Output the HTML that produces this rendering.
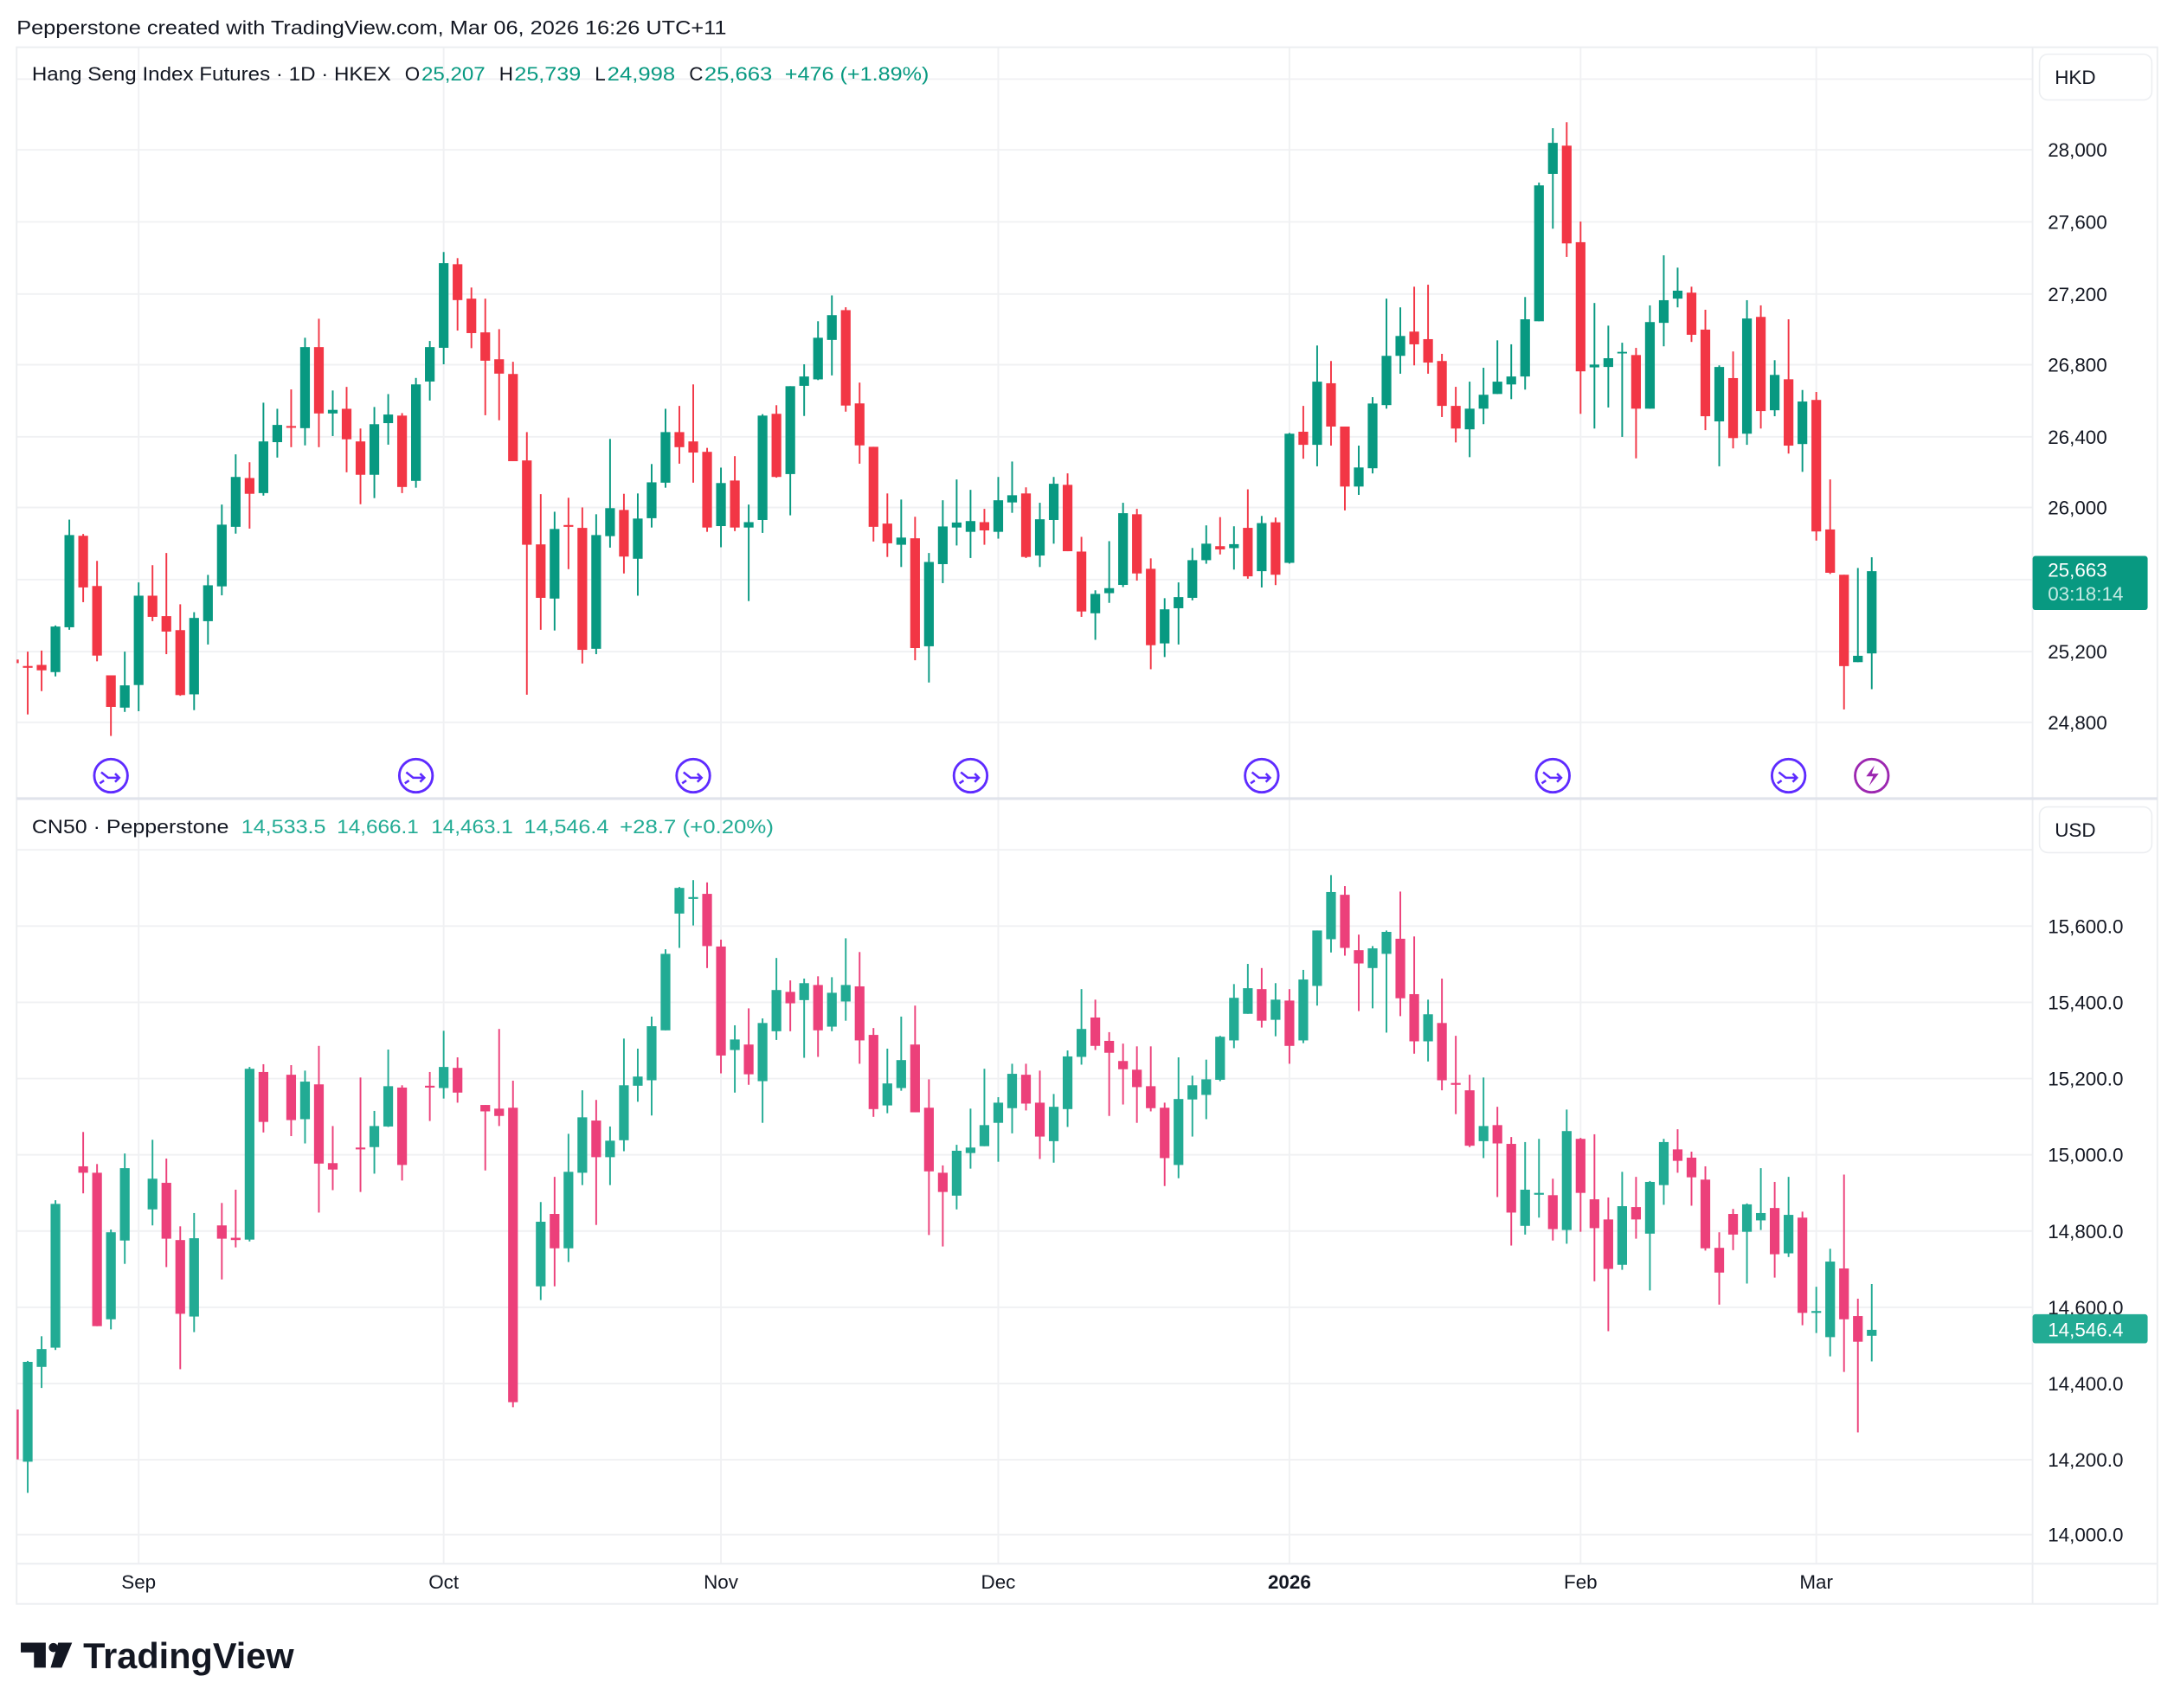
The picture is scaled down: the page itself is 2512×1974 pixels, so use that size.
<!DOCTYPE html>
<html><head><meta charset="utf-8"><style>
html,body{margin:0;padding:0;background:#fff}
svg{display:block}
text{font-family:"Liberation Sans",sans-serif}
.u rect{fill:#089981}.d rect{fill:#F23645}
.bu rect{fill:#22AB94}.bd rect{fill:#EC407A}
.ax{font-size:14px;fill:#131722}
</style></head><body>
<svg width="2512" height="1974" viewBox="0 0 1568 1232" xmlns="http://www.w3.org/2000/svg">
<defs>
<clipPath id="ct"><rect x="12" y="34" width="1454" height="542"/></clipPath>
<clipPath id="cb"><rect x="12" y="577" width="1454" height="551"/></clipPath>
</defs>
<rect width="1568" height="1232" fill="#fff"/>
<text x="12" y="24.5" font-size="14" fill="#131722" textLength="512" lengthAdjust="spacingAndGlyphs">Pepperstone created with TradingView.com, Mar 06, 2026 16:26 UTC+11</text>

<!-- grid -->
<g stroke="#f0f1f3" stroke-width="1.2">
<line x1="12" y1="57" x2="1466" y2="57"/><line x1="12" y1="108" x2="1466" y2="108"/><line x1="12" y1="160" x2="1466" y2="160"/><line x1="12" y1="212" x2="1466" y2="212"/><line x1="12" y1="263" x2="1466" y2="263"/><line x1="12" y1="315" x2="1466" y2="315"/><line x1="12" y1="366" x2="1466" y2="366"/><line x1="12" y1="418" x2="1466" y2="418"/><line x1="12" y1="470" x2="1466" y2="470"/><line x1="12" y1="521" x2="1466" y2="521"/>
<line x1="12" y1="613" x2="1466" y2="613"/><line x1="12" y1="668" x2="1466" y2="668"/><line x1="12" y1="723" x2="1466" y2="723"/><line x1="12" y1="778" x2="1466" y2="778"/><line x1="12" y1="833" x2="1466" y2="833"/><line x1="12" y1="888" x2="1466" y2="888"/><line x1="12" y1="943" x2="1466" y2="943"/><line x1="12" y1="998" x2="1466" y2="998"/><line x1="12" y1="1053" x2="1466" y2="1053"/><line x1="12" y1="1107" x2="1466" y2="1107"/>
<line x1="100" y1="34" x2="100" y2="1128"/><line x1="320" y1="34" x2="320" y2="1128"/><line x1="520" y1="34" x2="520" y2="1128"/><line x1="720" y1="34" x2="720" y2="1128"/><line x1="930" y1="34" x2="930" y2="1128"/><line x1="1140" y1="34" x2="1140" y2="1128"/><line x1="1310" y1="34" x2="1310" y2="1128"/>
</g>
<!-- frame -->
<rect x="12" y="34" width="1544" height="1123" fill="none" stroke="#eceef1" stroke-width="1.2"/>
<line x1="1466" y1="34" x2="1466" y2="1157" stroke="#eceef1" stroke-width="1.2"/>
<line x1="12" y1="1128" x2="1556" y2="1128" stroke="#eceef1" stroke-width="1.2"/>
<line x1="12" y1="576" x2="1556" y2="576" stroke="#e0e3eb" stroke-width="2"/>

<!-- TOP candles -->
<g clip-path="url(#ct)">
<g transform="translate(0,156.1) scale(1,0.2588)">
<g class="d" transform="translate(10)"><rect x="-.6" y="1218" width="1.2" height="44"/><rect x="-3.5" y="1235" width="7" height="10"/></g>
<g class="d" transform="translate(20)"><rect x="-.6" y="1213" width="1.2" height="175"/><rect x="-3.5" y="1253" width="7" height="5"/></g>
<g class="d" transform="translate(30)"><rect x="-.6" y="1210" width="1.2" height="113"/><rect x="-3.5" y="1250" width="7" height="15"/></g>
<g class="u" transform="translate(40)"><rect x="-.6" y="1140" width="1.2" height="142"/><rect x="-3.5" y="1143" width="7" height="127"/></g>
<g class="u" transform="translate(50)"><rect x="-.6" y="845" width="1.2" height="307"/><rect x="-3.5" y="888" width="7" height="257"/></g>
<g class="d" transform="translate(60)"><rect x="-.6" y="885" width="1.2" height="190"/><rect x="-3.5" y="890" width="7" height="144"/></g>
<g class="d" transform="translate(70)"><rect x="-.6" y="960" width="1.2" height="280"/><rect x="-3.5" y="1030" width="7" height="194"/></g>
<g class="d" transform="translate(80)"><rect x="-.6" y="1279" width="1.2" height="169"/><rect x="-3.5" y="1279" width="7" height="88"/></g>
<g class="u" transform="translate(90)"><rect x="-.6" y="1213" width="1.2" height="168"/><rect x="-3.5" y="1307" width="7" height="62"/></g>
<g class="u" transform="translate(100)"><rect x="-.6" y="1020" width="1.2" height="359"/><rect x="-3.5" y="1057" width="7" height="249"/></g>
<g class="d" transform="translate(110)"><rect x="-.6" y="972" width="1.2" height="156"/><rect x="-3.5" y="1057" width="7" height="59"/></g>
<g class="d" transform="translate(120)"><rect x="-.6" y="938" width="1.2" height="282"/><rect x="-3.5" y="1114" width="7" height="43"/></g>
<g class="d" transform="translate(130)"><rect x="-.6" y="1081" width="1.2" height="255"/><rect x="-3.5" y="1153" width="7" height="181"/></g>
<g class="u" transform="translate(140)"><rect x="-.6" y="1103" width="1.2" height="273"/><rect x="-3.5" y="1119" width="7" height="213"/></g>
<g class="u" transform="translate(150)"><rect x="-.6" y="999" width="1.2" height="194"/><rect x="-3.5" y="1028" width="7" height="100"/></g>
<g class="u" transform="translate(160)"><rect x="-.6" y="803" width="1.2" height="253"/><rect x="-3.5" y="859" width="7" height="172"/></g>
<g class="u" transform="translate(170)"><rect x="-.6" y="663" width="1.2" height="221"/><rect x="-3.5" y="726" width="7" height="139"/></g>
<g class="d" transform="translate(180)"><rect x="-.6" y="685" width="1.2" height="185"/><rect x="-3.5" y="729" width="7" height="44"/></g>
<g class="u" transform="translate(190)"><rect x="-.6" y="519" width="1.2" height="259"/><rect x="-3.5" y="627" width="7" height="144"/></g>
<g class="u" transform="translate(200)"><rect x="-.6" y="536" width="1.2" height="136"/><rect x="-3.5" y="581" width="7" height="48"/></g>
<g class="d" transform="translate(210)"><rect x="-.6" y="482" width="1.2" height="161"/><rect x="-3.5" y="584" width="7" height="5"/></g>
<g class="u" transform="translate(220)"><rect x="-.6" y="338" width="1.2" height="300"/><rect x="-3.5" y="364" width="7" height="226"/></g>
<g class="d" transform="translate(230)"><rect x="-.6" y="285" width="1.2" height="358"/><rect x="-3.5" y="364" width="7" height="185"/></g>
<g class="u" transform="translate(240)"><rect x="-.6" y="485" width="1.2" height="127"/><rect x="-3.5" y="539" width="7" height="10"/></g>
<g class="d" transform="translate(250)"><rect x="-.6" y="475" width="1.2" height="238"/><rect x="-3.5" y="536" width="7" height="85"/></g>
<g class="d" transform="translate(260)"><rect x="-.6" y="591" width="1.2" height="211"/><rect x="-3.5" y="627" width="7" height="93"/></g>
<g class="u" transform="translate(270)"><rect x="-.6" y="531" width="1.2" height="254"/><rect x="-3.5" y="579" width="7" height="141"/></g>
<g class="u" transform="translate(280)"><rect x="-.6" y="495" width="1.2" height="141"/><rect x="-3.5" y="552" width="7" height="24"/></g>
<g class="d" transform="translate(290)"><rect x="-.6" y="548" width="1.2" height="223"/><rect x="-3.5" y="555" width="7" height="199"/></g>
<g class="u" transform="translate(300)"><rect x="-.6" y="450" width="1.2" height="306"/><rect x="-3.5" y="468" width="7" height="269"/></g>
<g class="u" transform="translate(310)"><rect x="-.6" y="347" width="1.2" height="166"/><rect x="-3.5" y="364" width="7" height="96"/></g>
<g class="u" transform="translate(320)"><rect x="-.6" y="99" width="1.2" height="313"/><rect x="-3.5" y="130" width="7" height="236"/></g>
<g class="d" transform="translate(330)"><rect x="-.6" y="116" width="1.2" height="202"/><rect x="-3.5" y="133" width="7" height="100"/></g>
<g class="d" transform="translate(340)"><rect x="-.6" y="198" width="1.2" height="169"/><rect x="-3.5" y="229" width="7" height="96"/></g>
<g class="d" transform="translate(350)"><rect x="-.6" y="229" width="1.2" height="325"/><rect x="-3.5" y="323" width="7" height="79"/></g>
<g class="d" transform="translate(360)"><rect x="-.6" y="314" width="1.2" height="254"/><rect x="-3.5" y="398" width="7" height="40"/></g>
<g class="d" transform="translate(370)"><rect x="-.6" y="405" width="1.2" height="277"/><rect x="-3.5" y="439" width="7" height="243"/></g>
<g class="d" transform="translate(380)"><rect x="-.6" y="601" width="1.2" height="732"/><rect x="-3.5" y="680" width="7" height="235"/></g>
<g class="d" transform="translate(390)"><rect x="-.6" y="774" width="1.2" height="378"/><rect x="-3.5" y="914" width="7" height="149"/></g>
<g class="u" transform="translate(400)"><rect x="-.6" y="823" width="1.2" height="331"/><rect x="-3.5" y="871" width="7" height="194"/></g>
<g class="d" transform="translate(410)"><rect x="-.6" y="784" width="1.2" height="199"/><rect x="-3.5" y="860" width="7" height="5"/></g>
<g class="d" transform="translate(420)"><rect x="-.6" y="811" width="1.2" height="435"/><rect x="-3.5" y="868" width="7" height="340"/></g>
<g class="u" transform="translate(430)"><rect x="-.6" y="830" width="1.2" height="390"/><rect x="-3.5" y="888" width="7" height="317"/></g>
<g class="u" transform="translate(440)"><rect x="-.6" y="620" width="1.2" height="303"/><rect x="-3.5" y="813" width="7" height="78"/></g>
<g class="d" transform="translate(450)"><rect x="-.6" y="773" width="1.2" height="222"/><rect x="-3.5" y="818" width="7" height="130"/></g>
<g class="u" transform="translate(460)"><rect x="-.6" y="772" width="1.2" height="285"/><rect x="-3.5" y="842" width="7" height="112"/></g>
<g class="u" transform="translate(470)"><rect x="-.6" y="690" width="1.2" height="177"/><rect x="-3.5" y="741" width="7" height="100"/></g>
<g class="u" transform="translate(480)"><rect x="-.6" y="536" width="1.2" height="220"/><rect x="-3.5" y="601" width="7" height="141"/></g>
<g class="d" transform="translate(490)"><rect x="-.6" y="528" width="1.2" height="161"/><rect x="-3.5" y="601" width="7" height="42"/></g>
<g class="d" transform="translate(500)"><rect x="-.6" y="468" width="1.2" height="274"/><rect x="-3.5" y="627" width="7" height="31"/></g>
<g class="d" transform="translate(510)"><rect x="-.6" y="645" width="1.2" height="234"/><rect x="-3.5" y="656" width="7" height="211"/></g>
<g class="u" transform="translate(520)"><rect x="-.6" y="700" width="1.2" height="222"/><rect x="-3.5" y="743" width="7" height="120"/></g>
<g class="d" transform="translate(530)"><rect x="-.6" y="668" width="1.2" height="209"/><rect x="-3.5" y="736" width="7" height="131"/></g>
<g class="u" transform="translate(540)"><rect x="-.6" y="803" width="1.2" height="269"/><rect x="-3.5" y="852" width="7" height="15"/></g>
<g class="u" transform="translate(550)"><rect x="-.6" y="551" width="1.2" height="331"/><rect x="-3.5" y="555" width="7" height="291"/></g>
<g class="d" transform="translate(560)"><rect x="-.6" y="526" width="1.2" height="202"/><rect x="-3.5" y="550" width="7" height="176"/></g>
<g class="u" transform="translate(570)"><rect x="-.6" y="473" width="1.2" height="360"/><rect x="-3.5" y="473" width="7" height="245"/></g>
<g class="u" transform="translate(580)"><rect x="-.6" y="412" width="1.2" height="144"/><rect x="-3.5" y="446" width="7" height="26"/></g>
<g class="u" transform="translate(590)"><rect x="-.6" y="292" width="1.2" height="164"/><rect x="-3.5" y="338" width="7" height="116"/></g>
<g class="u" transform="translate(600)"><rect x="-.6" y="220" width="1.2" height="223"/><rect x="-3.5" y="275" width="7" height="69"/></g>
<g class="d" transform="translate(610)"><rect x="-.6" y="253" width="1.2" height="291"/><rect x="-3.5" y="261" width="7" height="266"/></g>
<g class="d" transform="translate(620)"><rect x="-.6" y="463" width="1.2" height="226"/><rect x="-3.5" y="521" width="7" height="117"/></g>
<g class="d" transform="translate(630)"><rect x="-.6" y="642" width="1.2" height="264"/><rect x="-3.5" y="642" width="7" height="223"/></g>
<g class="d" transform="translate(640)"><rect x="-.6" y="772" width="1.2" height="177"/><rect x="-3.5" y="856" width="7" height="55"/></g>
<g class="u" transform="translate(650)"><rect x="-.6" y="789" width="1.2" height="188"/><rect x="-3.5" y="895" width="7" height="20"/></g>
<g class="d" transform="translate(660)"><rect x="-.6" y="837" width="1.2" height="400"/><rect x="-3.5" y="897" width="7" height="306"/></g>
<g class="u" transform="translate(670)"><rect x="-.6" y="938" width="1.2" height="361"/><rect x="-3.5" y="963" width="7" height="235"/></g>
<g class="u" transform="translate(680)"><rect x="-.6" y="791" width="1.2" height="231"/><rect x="-3.5" y="864" width="7" height="105"/></g>
<g class="u" transform="translate(690)"><rect x="-.6" y="733" width="1.2" height="184"/><rect x="-3.5" y="853" width="7" height="14"/></g>
<g class="u" transform="translate(700)"><rect x="-.6" y="762" width="1.2" height="190"/><rect x="-3.5" y="849" width="7" height="30"/></g>
<g class="d" transform="translate(710)"><rect x="-.6" y="815" width="1.2" height="100"/><rect x="-3.5" y="852" width="7" height="23"/></g>
<g class="u" transform="translate(720)"><rect x="-.6" y="726" width="1.2" height="172"/><rect x="-3.5" y="791" width="7" height="88"/></g>
<g class="u" transform="translate(730)"><rect x="-.6" y="683" width="1.2" height="143"/><rect x="-3.5" y="777" width="7" height="20"/></g>
<g class="d" transform="translate(740)"><rect x="-.6" y="755" width="1.2" height="197"/><rect x="-3.5" y="772" width="7" height="177"/></g>
<g class="u" transform="translate(750)"><rect x="-.6" y="798" width="1.2" height="179"/><rect x="-3.5" y="844" width="7" height="101"/></g>
<g class="u" transform="translate(760)"><rect x="-.6" y="726" width="1.2" height="186"/><rect x="-3.5" y="745" width="7" height="101"/></g>
<g class="d" transform="translate(770)"><rect x="-.6" y="716" width="1.2" height="217"/><rect x="-3.5" y="748" width="7" height="185"/></g>
<g class="d" transform="translate(780)"><rect x="-.6" y="893" width="1.2" height="223"/><rect x="-3.5" y="934" width="7" height="167"/></g>
<g class="u" transform="translate(790)"><rect x="-.6" y="1042" width="1.2" height="138"/><rect x="-3.5" y="1052" width="7" height="54"/></g>
<g class="u" transform="translate(800)"><rect x="-.6" y="905" width="1.2" height="172"/><rect x="-3.5" y="1036" width="7" height="14"/></g>
<g class="u" transform="translate(810)"><rect x="-.6" y="798" width="1.2" height="235"/><rect x="-3.5" y="827" width="7" height="200"/></g>
<g class="d" transform="translate(820)"><rect x="-.6" y="815" width="1.2" height="200"/><rect x="-3.5" y="830" width="7" height="165"/></g>
<g class="d" transform="translate(830)"><rect x="-.6" y="953" width="1.2" height="309"/><rect x="-3.5" y="982" width="7" height="213"/></g>
<g class="u" transform="translate(840)"><rect x="-.6" y="1064" width="1.2" height="164"/><rect x="-3.5" y="1095" width="7" height="95"/></g>
<g class="u" transform="translate(850)"><rect x="-.6" y="1020" width="1.2" height="173"/><rect x="-3.5" y="1061" width="7" height="31"/></g>
<g class="u" transform="translate(860)"><rect x="-.6" y="924" width="1.2" height="146"/><rect x="-3.5" y="958" width="7" height="105"/></g>
<g class="u" transform="translate(870)"><rect x="-.6" y="861" width="1.2" height="107"/><rect x="-3.5" y="912" width="7" height="46"/></g>
<g class="d" transform="translate(880)"><rect x="-.6" y="838" width="1.2" height="104"/><rect x="-3.5" y="919" width="7" height="9"/></g>
</g>
<g transform="translate(0,74.9) scale(1,0.28662)">
<g class="u" transform="translate(890)"><rect x="-.6" y="1063" width="1.2" height="109"/><rect x="-3.5" y="1108" width="7" height="10"/></g>
<g class="d" transform="translate(900)"><rect x="-.6" y="970" width="1.2" height="225"/><rect x="-3.5" y="1067" width="7" height="122"/></g>
<g class="u" transform="translate(910)"><rect x="-.6" y="1037" width="1.2" height="180"/><rect x="-3.5" y="1055" width="7" height="121"/></g>
<g class="d" transform="translate(920)"><rect x="-.6" y="1041" width="1.2" height="170"/><rect x="-3.5" y="1053" width="7" height="132"/></g>
<g class="u" transform="translate(930)"><rect x="-.6" y="828" width="1.2" height="329"/><rect x="-3.5" y="830" width="7" height="325"/></g>
<g class="d" transform="translate(940)"><rect x="-.6" y="760" width="1.2" height="133"/><rect x="-3.5" y="825" width="7" height="33"/></g>
<g class="u" transform="translate(950)"><rect x="-.6" y="608" width="1.2" height="304"/><rect x="-3.5" y="699" width="7" height="159"/></g>
<g class="d" transform="translate(960)"><rect x="-.6" y="647" width="1.2" height="213"/><rect x="-3.5" y="703" width="7" height="109"/></g>
<g class="d" transform="translate(970)"><rect x="-.6" y="812" width="1.2" height="211"/><rect x="-3.5" y="812" width="7" height="151"/></g>
<g class="u" transform="translate(980)"><rect x="-.6" y="860" width="1.2" height="124"/><rect x="-3.5" y="915" width="7" height="48"/></g>
<g class="u" transform="translate(990)"><rect x="-.6" y="738" width="1.2" height="192"/><rect x="-3.5" y="754" width="7" height="163"/></g>
<g class="u" transform="translate(1000)"><rect x="-.6" y="490" width="1.2" height="277"/><rect x="-3.5" y="634" width="7" height="124"/></g>
<g class="u" transform="translate(1010)"><rect x="-.6" y="512" width="1.2" height="167"/><rect x="-3.5" y="584" width="7" height="50"/></g>
<g class="d" transform="translate(1020)"><rect x="-.6" y="460" width="1.2" height="198"/><rect x="-3.5" y="573" width="7" height="32"/></g>
<g class="d" transform="translate(1030)"><rect x="-.6" y="455" width="1.2" height="224"/><rect x="-3.5" y="592" width="7" height="59"/></g>
<g class="d" transform="translate(1040)"><rect x="-.6" y="629" width="1.2" height="159"/><rect x="-3.5" y="647" width="7" height="113"/></g>
<g class="d" transform="translate(1050)"><rect x="-.6" y="712" width="1.2" height="140"/><rect x="-3.5" y="760" width="7" height="57"/></g>
<g class="u" transform="translate(1060)"><rect x="-.6" y="699" width="1.2" height="190"/><rect x="-3.5" y="767" width="7" height="52"/></g>
<g class="u" transform="translate(1070)"><rect x="-.6" y="664" width="1.2" height="142"/><rect x="-3.5" y="732" width="7" height="35"/></g>
<g class="u" transform="translate(1080)"><rect x="-.6" y="595" width="1.2" height="135"/><rect x="-3.5" y="699" width="7" height="31"/></g>
<g class="u" transform="translate(1090)"><rect x="-.6" y="605" width="1.2" height="138"/><rect x="-3.5" y="686" width="7" height="20"/></g>
<g class="u" transform="translate(1100)"><rect x="-.6" y="486" width="1.2" height="233"/><rect x="-3.5" y="542" width="7" height="144"/></g>
<g class="u" transform="translate(1110)"><rect x="-.6" y="198" width="1.2" height="349"/><rect x="-3.5" y="205" width="7" height="342"/></g>
<g class="u" transform="translate(1120)"><rect x="-.6" y="61" width="1.2" height="253"/><rect x="-3.5" y="98" width="7" height="78"/></g>
<g class="d" transform="translate(1130)"><rect x="-.6" y="46" width="1.2" height="339"/><rect x="-3.5" y="105" width="7" height="246"/></g>
<g class="d" transform="translate(1140)"><rect x="-.6" y="296" width="1.2" height="484"/><rect x="-3.5" y="348" width="7" height="325"/></g>
<g class="u" transform="translate(1150)"><rect x="-.6" y="501" width="1.2" height="316"/><rect x="-3.5" y="656" width="7" height="7"/></g>
<g class="u" transform="translate(1160)"><rect x="-.6" y="558" width="1.2" height="206"/><rect x="-3.5" y="640" width="7" height="22"/></g>
<g class="u" transform="translate(1170)"><rect x="-.6" y="601" width="1.2" height="237"/><rect x="-3.5" y="624" width="7" height="4"/></g>
<g class="d" transform="translate(1180)"><rect x="-.6" y="614" width="1.2" height="278"/><rect x="-3.5" y="632" width="7" height="135"/></g>
<g class="u" transform="translate(1190)"><rect x="-.6" y="507" width="1.2" height="260"/><rect x="-3.5" y="549" width="7" height="218"/></g>
<g class="u" transform="translate(1200)"><rect x="-.6" y="381" width="1.2" height="229"/><rect x="-3.5" y="494" width="7" height="57"/></g>
<g class="u" transform="translate(1210)"><rect x="-.6" y="412" width="1.2" height="100"/><rect x="-3.5" y="470" width="7" height="20"/></g>
<g class="d" transform="translate(1220)"><rect x="-.6" y="460" width="1.2" height="139"/><rect x="-3.5" y="475" width="7" height="106"/></g>
<g class="d" transform="translate(1230)"><rect x="-.6" y="518" width="1.2" height="303"/><rect x="-3.5" y="568" width="7" height="218"/></g>
<g class="u" transform="translate(1240)"><rect x="-.6" y="658" width="1.2" height="254"/><rect x="-3.5" y="662" width="7" height="137"/></g>
<g class="d" transform="translate(1250)"><rect x="-.6" y="623" width="1.2" height="244"/><rect x="-3.5" y="690" width="7" height="151"/></g>
<g class="u" transform="translate(1260)"><rect x="-.6" y="494" width="1.2" height="364"/><rect x="-3.5" y="540" width="7" height="290"/></g>
<g class="d" transform="translate(1270)"><rect x="-.6" y="507" width="1.2" height="310"/><rect x="-3.5" y="536" width="7" height="237"/></g>
<g class="u" transform="translate(1280)"><rect x="-.6" y="645" width="1.2" height="141"/><rect x="-3.5" y="682" width="7" height="89"/></g>
<g class="d" transform="translate(1290)"><rect x="-.6" y="542" width="1.2" height="338"/><rect x="-3.5" y="693" width="7" height="167"/></g>
<g class="u" transform="translate(1300)"><rect x="-.6" y="720" width="1.2" height="206"/><rect x="-3.5" y="749" width="7" height="107"/></g>
<g class="d" transform="translate(1310)"><rect x="-.6" y="725" width="1.2" height="374"/><rect x="-3.5" y="745" width="7" height="331"/></g>
<g class="d" transform="translate(1320)"><rect x="-.6" y="945" width="1.2" height="238"/><rect x="-3.5" y="1071" width="7" height="109"/></g>
<g class="d" transform="translate(1330)"><rect x="-.6" y="1185" width="1.2" height="339"/><rect x="-3.5" y="1185" width="7" height="230"/></g>
<g class="u" transform="translate(1340)"><rect x="-.6" y="1168" width="1.2" height="237"/><rect x="-3.5" y="1389" width="7" height="16"/></g>
<g class="u" transform="translate(1350)"><rect x="-.6" y="1141" width="1.2" height="332"/><rect x="-3.5" y="1176" width="7" height="207"/></g>
</g>
</g>

<!-- event icons -->
<g fill="none" stroke="#5E2BFF" stroke-width="1.8">
<circle cx="80" cy="559.5" r="12"/><circle cx="300" cy="559.5" r="12"/><circle cx="500" cy="559.5" r="12"/><circle cx="700" cy="559.5" r="12"/><circle cx="910" cy="559.5" r="12"/><circle cx="1120" cy="559.5" r="12"/><circle cx="1290" cy="559.5" r="12"/>
<g stroke-width="1.6">
<path d="M73 557 l5 4 h8 M83 558 l3 3 l-3 3 M72 565 l3-2"/>
<path d="M293 557 l5 4 h8 M303 558 l3 3 l-3 3 M292 565 l3-2"/>
<path d="M493 557 l5 4 h8 M503 558 l3 3 l-3 3 M492 565 l3-2"/>
<path d="M693 557 l5 4 h8 M703 558 l3 3 l-3 3 M692 565 l3-2"/>
<path d="M903 557 l5 4 h8 M913 558 l3 3 l-3 3 M902 565 l3-2"/>
<path d="M1113 557 l5 4 h8 M1123 558 l3 3 l-3 3 M1112 565 l3-2"/>
<path d="M1283 557 l5 4 h8 M1293 558 l3 3 l-3 3 M1282 565 l3-2"/>
</g>
</g>
<circle cx="1350" cy="559.5" r="12" fill="none" stroke="#9C27B0" stroke-width="1.8"/>
<path d="M1352 552 l-6 8 h5 l-3 7 l7-9 h-5 z" fill="#9C27B0"/>

<!-- BOTTOM candles -->
<g clip-path="url(#cb)">
<g transform="translate(0,618) scale(1,0.33036)">
<g class="bd" transform="translate(10)"><rect x="-.6" y="1207" width="1.2" height="109"/><rect x="-3.5" y="1207" width="7" height="109"/></g>
<g class="bu" transform="translate(20)"><rect x="-.6" y="1101" width="1.2" height="288"/><rect x="-3.5" y="1103" width="7" height="218"/></g>
<g class="bu" transform="translate(30)"><rect x="-.6" y="1047" width="1.2" height="113"/><rect x="-3.5" y="1075" width="7" height="39"/></g>
<g class="bu" transform="translate(40)"><rect x="-.6" y="750" width="1.2" height="327"/><rect x="-3.5" y="758" width="7" height="314"/></g>
<g class="bd" transform="translate(60)"><rect x="-.6" y="601" width="1.2" height="134"/><rect x="-3.5" y="676" width="7" height="14"/></g>
<g class="bd" transform="translate(70)"><rect x="-.6" y="671" width="1.2" height="354"/><rect x="-3.5" y="690" width="7" height="335"/></g>
<g class="bu" transform="translate(80)"><rect x="-.6" y="814" width="1.2" height="218"/><rect x="-3.5" y="820" width="7" height="190"/></g>
<g class="bu" transform="translate(90)"><rect x="-.6" y="648" width="1.2" height="241"/><rect x="-3.5" y="680" width="7" height="158"/></g>
<g class="bu" transform="translate(110)"><rect x="-.6" y="618" width="1.2" height="187"/><rect x="-3.5" y="703" width="7" height="67"/></g>
<g class="bd" transform="translate(120)"><rect x="-.6" y="659" width="1.2" height="237"/><rect x="-3.5" y="712" width="7" height="122"/></g>
<g class="bd" transform="translate(130)"><rect x="-.6" y="807" width="1.2" height="312"/><rect x="-3.5" y="837" width="7" height="161"/></g>
<g class="bu" transform="translate(140)"><rect x="-.6" y="778" width="1.2" height="260"/><rect x="-3.5" y="833" width="7" height="171"/></g>
<g class="bd" transform="translate(160)"><rect x="-.6" y="756" width="1.2" height="167"/><rect x="-3.5" y="805" width="7" height="29"/></g>
<g class="bd" transform="translate(170)"><rect x="-.6" y="727" width="1.2" height="126"/><rect x="-3.5" y="832" width="7" height="5"/></g>
<g class="bu" transform="translate(180)"><rect x="-.6" y="459" width="1.2" height="381"/><rect x="-3.5" y="463" width="7" height="373"/></g>
<g class="bd" transform="translate(190)"><rect x="-.6" y="453" width="1.2" height="149"/><rect x="-3.5" y="470" width="7" height="109"/></g>
<g class="bd" transform="translate(210)"><rect x="-.6" y="455" width="1.2" height="155"/><rect x="-3.5" y="476" width="7" height="99"/></g>
<g class="bu" transform="translate(220)"><rect x="-.6" y="467" width="1.2" height="159"/><rect x="-3.5" y="491" width="7" height="82"/></g>
<g class="bd" transform="translate(230)"><rect x="-.6" y="413" width="1.2" height="364"/><rect x="-3.5" y="497" width="7" height="173"/></g>
<g class="bd" transform="translate(240)"><rect x="-.6" y="588" width="1.2" height="140"/><rect x="-3.5" y="669" width="7" height="14"/></g>
<g class="bd" transform="translate(260)"><rect x="-.6" y="482" width="1.2" height="250"/><rect x="-3.5" y="635" width="7" height="4"/></g>
<g class="bu" transform="translate(270)"><rect x="-.6" y="555" width="1.2" height="137"/><rect x="-3.5" y="588" width="7" height="46"/></g>
<g class="bu" transform="translate(280)"><rect x="-.6" y="421" width="1.2" height="169"/><rect x="-3.5" y="501" width="7" height="88"/></g>
<g class="bd" transform="translate(290)"><rect x="-.6" y="499" width="1.2" height="208"/><rect x="-3.5" y="504" width="7" height="169"/></g>
<g class="bd" transform="translate(310)"><rect x="-.6" y="470" width="1.2" height="107"/><rect x="-3.5" y="500" width="7" height="4"/></g>
<g class="bu" transform="translate(320)"><rect x="-.6" y="380" width="1.2" height="148"/><rect x="-3.5" y="459" width="7" height="46"/></g>
<g class="bd" transform="translate(330)"><rect x="-.6" y="438" width="1.2" height="99"/><rect x="-3.5" y="461" width="7" height="54"/></g>
<g class="bd" transform="translate(350)"><rect x="-.6" y="542" width="1.2" height="143"/><rect x="-3.5" y="542" width="7" height="14"/></g>
<g class="bd" transform="translate(360)"><rect x="-.6" y="376" width="1.2" height="212"/><rect x="-3.5" y="550" width="7" height="16"/></g>
<g class="bd" transform="translate(370)"><rect x="-.6" y="489" width="1.2" height="713"/><rect x="-3.5" y="548" width="7" height="643"/></g>
<g class="bu" transform="translate(390)"><rect x="-.6" y="754" width="1.2" height="214"/><rect x="-3.5" y="797" width="7" height="141"/></g>
<g class="bd" transform="translate(400)"><rect x="-.6" y="699" width="1.2" height="239"/><rect x="-3.5" y="780" width="7" height="75"/></g>
<g class="bu" transform="translate(410)"><rect x="-.6" y="605" width="1.2" height="280"/><rect x="-3.5" y="688" width="7" height="167"/></g>
<g class="bu" transform="translate(420)"><rect x="-.6" y="510" width="1.2" height="207"/><rect x="-3.5" y="569" width="7" height="121"/></g>
<g class="bd" transform="translate(430)"><rect x="-.6" y="531" width="1.2" height="273"/><rect x="-3.5" y="576" width="7" height="80"/></g>
<g class="bu" transform="translate(440)"><rect x="-.6" y="589" width="1.2" height="128"/><rect x="-3.5" y="620" width="7" height="36"/></g>
<g class="bu" transform="translate(450)"><rect x="-.6" y="397" width="1.2" height="246"/><rect x="-3.5" y="499" width="7" height="120"/></g>
<g class="bu" transform="translate(460)"><rect x="-.6" y="419" width="1.2" height="116"/><rect x="-3.5" y="480" width="7" height="20"/></g>
<g class="bu" transform="translate(470)"><rect x="-.6" y="349" width="1.2" height="216"/><rect x="-3.5" y="370" width="7" height="118"/></g>
<g class="bu" transform="translate(480)"><rect x="-.6" y="202" width="1.2" height="177"/><rect x="-3.5" y="212" width="7" height="167"/></g>
<g class="bu" transform="translate(490)"><rect x="-.6" y="66" width="1.2" height="133"/><rect x="-3.5" y="68" width="7" height="56"/></g>
<g class="bu" transform="translate(500)"><rect x="-.6" y="51" width="1.2" height="99"/><rect x="-3.5" y="88" width="7" height="4"/></g>
<g class="bd" transform="translate(510)"><rect x="-.6" y="56" width="1.2" height="187"/><rect x="-3.5" y="81" width="7" height="114"/></g>
<g class="bd" transform="translate(520)"><rect x="-.6" y="181" width="1.2" height="292"/><rect x="-3.5" y="196" width="7" height="238"/></g>
<g class="bu" transform="translate(530)"><rect x="-.6" y="368" width="1.2" height="147"/><rect x="-3.5" y="399" width="7" height="23"/></g>
<g class="bd" transform="translate(540)"><rect x="-.6" y="331" width="1.2" height="167"/><rect x="-3.5" y="410" width="7" height="65"/></g>
<g class="bu" transform="translate(550)"><rect x="-.6" y="353" width="1.2" height="228"/><rect x="-3.5" y="363" width="7" height="127"/></g>
<g class="bu" transform="translate(560)"><rect x="-.6" y="221" width="1.2" height="179"/><rect x="-3.5" y="291" width="7" height="90"/></g>
<g class="bd" transform="translate(570)"><rect x="-.6" y="270" width="1.2" height="111"/><rect x="-3.5" y="295" width="7" height="25"/></g>
<g class="bu" transform="translate(580)"><rect x="-.6" y="266" width="1.2" height="173"/><rect x="-3.5" y="276" width="7" height="37"/></g>
<g class="bd" transform="translate(590)"><rect x="-.6" y="261" width="1.2" height="176"/><rect x="-3.5" y="280" width="7" height="99"/></g>
<g class="bu" transform="translate(600)"><rect x="-.6" y="263" width="1.2" height="118"/><rect x="-3.5" y="297" width="7" height="74"/></g>
<g class="bu" transform="translate(610)"><rect x="-.6" y="178" width="1.2" height="180"/><rect x="-3.5" y="280" width="7" height="36"/></g>
<g class="bd" transform="translate(620)"><rect x="-.6" y="208" width="1.2" height="244"/><rect x="-3.5" y="283" width="7" height="118"/></g>
<g class="bd" transform="translate(630)"><rect x="-.6" y="374" width="1.2" height="194"/><rect x="-3.5" y="389" width="7" height="162"/></g>
<g class="bu" transform="translate(640)"><rect x="-.6" y="419" width="1.2" height="141"/><rect x="-3.5" y="495" width="7" height="48"/></g>
<g class="bu" transform="translate(650)"><rect x="-.6" y="349" width="1.2" height="162"/><rect x="-3.5" y="444" width="7" height="61"/></g>
<g class="bd" transform="translate(660)"><rect x="-.6" y="325" width="1.2" height="233"/><rect x="-3.5" y="410" width="7" height="148"/></g>
<g class="bd" transform="translate(670)"><rect x="-.6" y="486" width="1.2" height="340"/><rect x="-3.5" y="548" width="7" height="139"/></g>
<g class="bd" transform="translate(680)"><rect x="-.6" y="674" width="1.2" height="177"/><rect x="-3.5" y="690" width="7" height="42"/></g>
<g class="bu" transform="translate(690)"><rect x="-.6" y="629" width="1.2" height="141"/><rect x="-3.5" y="642" width="7" height="98"/></g>
<g class="bu" transform="translate(700)"><rect x="-.6" y="550" width="1.2" height="131"/><rect x="-3.5" y="635" width="7" height="12"/></g>
<g class="bu" transform="translate(710)"><rect x="-.6" y="463" width="1.2" height="169"/><rect x="-3.5" y="586" width="7" height="46"/></g>
<g class="bu" transform="translate(720)"><rect x="-.6" y="525" width="1.2" height="141"/><rect x="-3.5" y="537" width="7" height="44"/></g>
<g class="bu" transform="translate(730)"><rect x="-.6" y="452" width="1.2" height="152"/><rect x="-3.5" y="474" width="7" height="75"/></g>
<g class="bd" transform="translate(740)"><rect x="-.6" y="452" width="1.2" height="102"/><rect x="-3.5" y="476" width="7" height="63"/></g>
<g class="bd" transform="translate(750)"><rect x="-.6" y="467" width="1.2" height="193"/><rect x="-3.5" y="537" width="7" height="74"/></g>
<g class="bu" transform="translate(760)"><rect x="-.6" y="518" width="1.2" height="150"/><rect x="-3.5" y="546" width="7" height="75"/></g>
<g class="bu" transform="translate(770)"><rect x="-.6" y="423" width="1.2" height="167"/><rect x="-3.5" y="436" width="7" height="115"/></g>
<g class="bu" transform="translate(780)"><rect x="-.6" y="289" width="1.2" height="165"/><rect x="-3.5" y="376" width="7" height="61"/></g>
<g class="bd" transform="translate(790)"><rect x="-.6" y="312" width="1.2" height="110"/><rect x="-3.5" y="351" width="7" height="62"/></g>
<g class="bd" transform="translate(800)"><rect x="-.6" y="383" width="1.2" height="183"/><rect x="-3.5" y="402" width="7" height="26"/></g>
<g class="bd" transform="translate(810)"><rect x="-.6" y="408" width="1.2" height="133"/><rect x="-3.5" y="446" width="7" height="18"/></g>
<g class="bd" transform="translate(820)"><rect x="-.6" y="414" width="1.2" height="167"/><rect x="-3.5" y="465" width="7" height="38"/></g>
<g class="bd" transform="translate(830)"><rect x="-.6" y="414" width="1.2" height="142"/><rect x="-3.5" y="501" width="7" height="48"/></g>
<g class="bd" transform="translate(840)"><rect x="-.6" y="537" width="1.2" height="182"/><rect x="-3.5" y="548" width="7" height="110"/></g>
<g class="bu" transform="translate(850)"><rect x="-.6" y="438" width="1.2" height="264"/><rect x="-3.5" y="529" width="7" height="144"/></g>
<g class="bu" transform="translate(860)"><rect x="-.6" y="478" width="1.2" height="133"/><rect x="-3.5" y="499" width="7" height="31"/></g>
<g class="bu" transform="translate(870)"><rect x="-.6" y="443" width="1.2" height="130"/><rect x="-3.5" y="486" width="7" height="34"/></g>
<g class="bu" transform="translate(880)"><rect x="-.6" y="391" width="1.2" height="99"/><rect x="-3.5" y="393" width="7" height="94"/></g>
<g class="bu" transform="translate(890)"><rect x="-.6" y="278" width="1.2" height="140"/><rect x="-3.5" y="308" width="7" height="93"/></g>
<g class="bu" transform="translate(900)"><rect x="-.6" y="234" width="1.2" height="109"/><rect x="-3.5" y="287" width="7" height="56"/></g>
<g class="bd" transform="translate(910)"><rect x="-.6" y="243" width="1.2" height="130"/><rect x="-3.5" y="289" width="7" height="69"/></g>
<g class="bu" transform="translate(920)"><rect x="-.6" y="276" width="1.2" height="116"/><rect x="-3.5" y="312" width="7" height="44"/></g>
<g class="bd" transform="translate(930)"><rect x="-.6" y="289" width="1.2" height="163"/><rect x="-3.5" y="314" width="7" height="99"/></g>
<g class="bu" transform="translate(940)"><rect x="-.6" y="247" width="1.2" height="160"/><rect x="-3.5" y="268" width="7" height="133"/></g>
<g class="bu" transform="translate(950)"><rect x="-.6" y="161" width="1.2" height="164"/><rect x="-3.5" y="161" width="7" height="121"/></g>
<g class="bu" transform="translate(960)"><rect x="-.6" y="40" width="1.2" height="169"/><rect x="-3.5" y="77" width="7" height="103"/></g>
<g class="bd" transform="translate(970)"><rect x="-.6" y="64" width="1.2" height="152"/><rect x="-3.5" y="83" width="7" height="116"/></g>
<g class="bd" transform="translate(980)"><rect x="-.6" y="170" width="1.2" height="167"/><rect x="-3.5" y="204" width="7" height="29"/></g>
<g class="bu" transform="translate(990)"><rect x="-.6" y="195" width="1.2" height="136"/><rect x="-3.5" y="200" width="7" height="43"/></g>
<g class="bu" transform="translate(1000)"><rect x="-.6" y="161" width="1.2" height="223"/><rect x="-3.5" y="164" width="7" height="48"/></g>
<g class="bd" transform="translate(1010)"><rect x="-.6" y="76" width="1.2" height="272"/><rect x="-3.5" y="179" width="7" height="130"/></g>
<g class="bd" transform="translate(1020)"><rect x="-.6" y="174" width="1.2" height="256"/><rect x="-3.5" y="300" width="7" height="103"/></g>
<g class="bu" transform="translate(1030)"><rect x="-.6" y="312" width="1.2" height="135"/><rect x="-3.5" y="344" width="7" height="59"/></g>
<g class="bd" transform="translate(1040)"><rect x="-.6" y="266" width="1.2" height="244"/><rect x="-3.5" y="363" width="7" height="125"/></g>
<g class="bd" transform="translate(1050)"><rect x="-.6" y="391" width="1.2" height="171"/><rect x="-3.5" y="494" width="7" height="4"/></g>
<g class="bd" transform="translate(1060)"><rect x="-.6" y="476" width="1.2" height="158"/><rect x="-3.5" y="510" width="7" height="121"/></g>
<g class="bu" transform="translate(1070)"><rect x="-.6" y="482" width="1.2" height="176"/><rect x="-3.5" y="588" width="7" height="33"/></g>
<g class="bd" transform="translate(1080)"><rect x="-.6" y="546" width="1.2" height="197"/><rect x="-3.5" y="586" width="7" height="40"/></g>
<g class="bd" transform="translate(1090)"><rect x="-.6" y="612" width="1.2" height="237"/><rect x="-3.5" y="627" width="7" height="150"/></g>
<g class="bu" transform="translate(1100)"><rect x="-.6" y="623" width="1.2" height="202"/><rect x="-3.5" y="727" width="7" height="79"/></g>
<g class="bu" transform="translate(1110)"><rect x="-.6" y="616" width="1.2" height="172"/><rect x="-3.5" y="734" width="7" height="4"/></g>
<g class="bd" transform="translate(1120)"><rect x="-.6" y="703" width="1.2" height="135"/><rect x="-3.5" y="739" width="7" height="74"/></g>
<g class="bu" transform="translate(1130)"><rect x="-.6" y="552" width="1.2" height="293"/><rect x="-3.5" y="599" width="7" height="216"/></g>
<g class="bd" transform="translate(1140)"><rect x="-.6" y="614" width="1.2" height="205"/><rect x="-3.5" y="616" width="7" height="118"/></g>
<g class="bd" transform="translate(1150)"><rect x="-.6" y="606" width="1.2" height="321"/><rect x="-3.5" y="748" width="7" height="63"/></g>
<g class="bd" transform="translate(1160)"><rect x="-.6" y="744" width="1.2" height="292"/><rect x="-3.5" y="792" width="7" height="108"/></g>
<g class="bu" transform="translate(1170)"><rect x="-.6" y="688" width="1.2" height="214"/><rect x="-3.5" y="763" width="7" height="128"/></g>
<g class="bd" transform="translate(1180)"><rect x="-.6" y="699" width="1.2" height="135"/><rect x="-3.5" y="765" width="7" height="27"/></g>
<g class="bu" transform="translate(1190)"><rect x="-.6" y="708" width="1.2" height="239"/><rect x="-3.5" y="710" width="7" height="113"/></g>
<g class="bu" transform="translate(1200)"><rect x="-.6" y="616" width="1.2" height="144"/><rect x="-3.5" y="623" width="7" height="94"/></g>
<g class="bd" transform="translate(1210)"><rect x="-.6" y="595" width="1.2" height="95"/><rect x="-3.5" y="639" width="7" height="25"/></g>
<g class="bd" transform="translate(1220)"><rect x="-.6" y="644" width="1.2" height="118"/><rect x="-3.5" y="657" width="7" height="43"/></g>
<g class="bd" transform="translate(1230)"><rect x="-.6" y="676" width="1.2" height="184"/><rect x="-3.5" y="705" width="7" height="150"/></g>
<g class="bd" transform="translate(1240)"><rect x="-.6" y="820" width="1.2" height="158"/><rect x="-3.5" y="854" width="7" height="54"/></g>
<g class="bd" transform="translate(1250)"><rect x="-.6" y="769" width="1.2" height="90"/><rect x="-3.5" y="780" width="7" height="45"/></g>
<g class="bu" transform="translate(1260)"><rect x="-.6" y="757" width="1.2" height="175"/><rect x="-3.5" y="759" width="7" height="60"/></g>
<g class="bu" transform="translate(1270)"><rect x="-.6" y="680" width="1.2" height="135"/><rect x="-3.5" y="778" width="7" height="16"/></g>
<g class="bd" transform="translate(1280)"><rect x="-.6" y="710" width="1.2" height="209"/><rect x="-3.5" y="767" width="7" height="101"/></g>
<g class="bu" transform="translate(1290)"><rect x="-.6" y="699" width="1.2" height="175"/><rect x="-3.5" y="782" width="7" height="84"/></g>
<g class="bd" transform="translate(1300)"><rect x="-.6" y="775" width="1.2" height="248"/><rect x="-3.5" y="788" width="7" height="208"/></g>
<g class="bu" transform="translate(1310)"><rect x="-.6" y="939" width="1.2" height="101"/><rect x="-3.5" y="992" width="7" height="4"/></g>
<g class="bu" transform="translate(1320)"><rect x="-.6" y="856" width="1.2" height="235"/><rect x="-3.5" y="884" width="7" height="165"/></g>
<g class="bd" transform="translate(1330)"><rect x="-.6" y="694" width="1.2" height="431"/><rect x="-3.5" y="899" width="7" height="111"/></g>
<g class="bd" transform="translate(1340)"><rect x="-.6" y="965" width="1.2" height="292"/><rect x="-3.5" y="1003" width="7" height="56"/></g>
<g class="bu" transform="translate(1350)"><rect x="-.6" y="933" width="1.2" height="169"/><rect x="-3.5" y="1033" width="7" height="13"/></g>
</g>
</g>

<!-- legends -->
<text x="23" y="58" font-size="14" fill="#131722" textLength="259" lengthAdjust="spacingAndGlyphs">Hang Seng Index Futures · 1D · HKEX</text>
<g font-size="14">
<text x="292" y="58" fill="#131722">O</text><text x="304" y="58" fill="#089981" textLength="46" lengthAdjust="spacingAndGlyphs">25,207</text>
<text x="360" y="58" fill="#131722">H</text><text x="371" y="58" fill="#089981" textLength="48" lengthAdjust="spacingAndGlyphs">25,739</text>
<text x="429" y="58" fill="#131722">L</text><text x="438" y="58" fill="#089981" textLength="49" lengthAdjust="spacingAndGlyphs">24,998</text>
<text x="497" y="58" fill="#131722">C</text><text x="508" y="58" fill="#089981" textLength="49" lengthAdjust="spacingAndGlyphs">25,663</text>
<text x="566" y="58" fill="#089981" textLength="104" lengthAdjust="spacingAndGlyphs">+476 (+1.89%)</text>
</g>
<g font-size="14">
<text x="23" y="601" fill="#131722" textLength="142" lengthAdjust="spacingAndGlyphs">CN50 · Pepperstone</text>
<text x="174" y="601" fill="#22AB94" textLength="61" lengthAdjust="spacingAndGlyphs">14,533.5</text>
<text x="243" y="601" fill="#22AB94" textLength="59" lengthAdjust="spacingAndGlyphs">14,666.1</text>
<text x="311" y="601" fill="#22AB94" textLength="59" lengthAdjust="spacingAndGlyphs">14,463.1</text>
<text x="378" y="601" fill="#22AB94" textLength="61" lengthAdjust="spacingAndGlyphs">14,546.4</text>
<text x="447" y="601" fill="#22AB94" textLength="111" lengthAdjust="spacingAndGlyphs">+28.7 (+0.20%)</text>
</g>

<!-- right axis -->
<rect x="1471" y="39" width="81" height="33" rx="6" fill="#fff" stroke="#eceef1" stroke-width="1"/>
<text x="1482" y="60.5" font-size="14" fill="#131722">HKD</text>
<rect x="1471" y="582" width="81" height="33" rx="6" fill="#fff" stroke="#eceef1" stroke-width="1"/>
<text x="1482" y="603.5" font-size="14" fill="#131722">USD</text>
<g class="ax">
<text x="1477" y="113">28,000</text><text x="1477" y="165">27,600</text><text x="1477" y="217">27,200</text><text x="1477" y="268">26,800</text><text x="1477" y="320">26,400</text><text x="1477" y="371">26,000</text><text x="1477" y="475">25,200</text><text x="1477" y="526">24,800</text>
<text x="1477" y="673">15,600.0</text><text x="1477" y="728">15,400.0</text><text x="1477" y="783">15,200.0</text><text x="1477" y="838">15,000.0</text><text x="1477" y="893">14,800.0</text><text x="1477" y="948">14,600.0</text><text x="1477" y="1003">14,400.0</text><text x="1477" y="1058">14,200.0</text><text x="1477" y="1112">14,000.0</text>
</g>
<rect x="1466" y="401" width="83" height="39" rx="2" fill="#089981"/>
<text x="1477" y="416" font-size="14" fill="#fff">25,663</text>
<text x="1477" y="433" font-size="14" fill="#c6ebe4">03:18:14</text>
<rect x="1466" y="948" width="83" height="21" rx="2" fill="#22AB94"/>
<text x="1477" y="964" font-size="14" fill="#fff">14,546.4</text>

<!-- time axis -->
<g class="ax" text-anchor="middle">
<text x="100" y="1146">Sep</text><text x="320" y="1146">Oct</text><text x="520" y="1146">Nov</text><text x="720" y="1146">Dec</text><text x="930" y="1146" font-weight="bold">2026</text><text x="1140" y="1146">Feb</text><text x="1310" y="1146">Mar</text>
</g>

<!-- logo -->
<g fill="#131722">
<path d="M15 1185 H33 V1203 H24.5 V1192 H15 Z"/>
<circle cx="38.5" cy="1188.5" r="3.3"/>
<path d="M42 1185 H52 L44.5 1203 H36.5 Z"/>
<text x="60" y="1203.5" font-size="26" font-weight="bold" textLength="152" lengthAdjust="spacingAndGlyphs">TradingView</text>
</g>
</svg>
</body></html>
